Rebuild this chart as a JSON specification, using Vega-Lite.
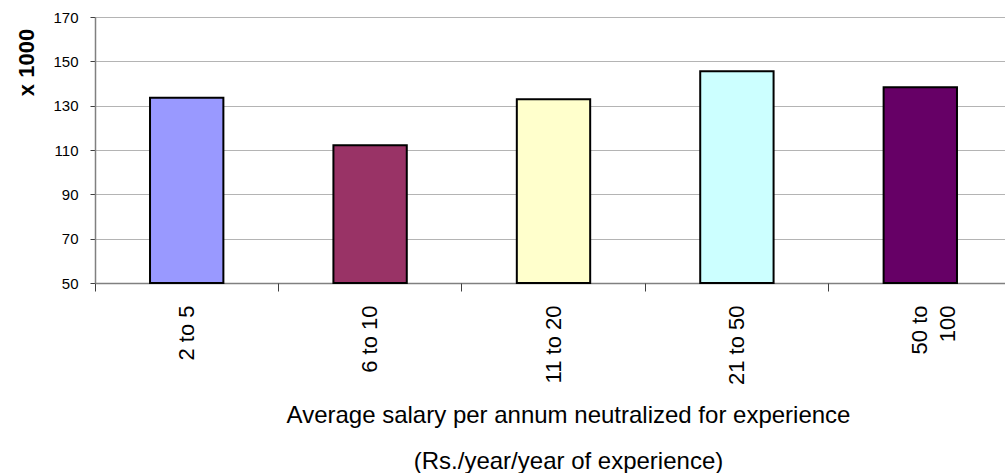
{
  "$schema": "https://vega.github.io/schema/vega-lite/v6.json",
  "width": 917,
  "height": 266,
  "autosize": {"type": "none"},
  "padding": {"left": 95, "top": 17, "right": 0, "bottom": 190},
  "background": "white",
  "config": {"view": {"stroke": null}, "font": "Liberation Sans"},
  "data": {
    "values": [
      {"range": "2 to 5", "salary": 133.6},
      {"range": "6 to 10", "salary": 112.1},
      {"range": "11 to 20", "salary": 132.9},
      {"range": "21 to 50", "salary": 145.5},
      {"range": "50 to 100", "salary": 138.3}
    ]
  },
  "layer": [
    {
      "mark": {"type": "bar", "width": {"band": 0.4}, "stroke": "black", "strokeWidth": 2},
      "encoding": {
        "x": {
          "field": "range", "type": "nominal", "sort": null,
          "scale": {"paddingInner": 0, "paddingOuter": 0},
          "axis": {
            "orient": "bottom",
            "title": ["Average salary per annum neutralized for experience", "(Rs./year/year of experience)"],
            "titleFontSize": 24, "titleFontWeight": "normal", "titleColor": "black",
            "titleLineHeight": 46, "titleX": 473, "titleY": 139,
            "titleBaseline": "alphabetic", "titleAlign": "center",
            "labelAngle": -90, "labelFontSize": 22, "labelColor": "black",
            "labelPadding": 22, "ticks": false,
            "labelExpr": "datum.label == '50 to 100' ? ['50 to', '100\u00a0'] : datum.label",
            "labelLineHeight": 28,
            "domainColor": "#808080", "domainWidth": 1.5, "grid": false
          }
        },
        "y": {
          "field": "salary", "type": "quantitative",
          "scale": {"domain": [50, 170], "nice": false, "zero": false},
          "axis": {
            "values": [50, 60, 70, 80, 90, 100, 110, 120, 130, 140, 150, 160, 170],
            "labelExpr": "datum.value % 20 == 10 ? datum.label : ''",
            "title": "x 1000", "titleFontSize": 22, "titleFontWeight": "bold", "titleColor": "black",
            "titleX": -69, "titleY": 45, "titleAngle": 270, "titleAlign": "center", "titleBaseline": "middle",
            "grid": true, "gridColor": "#b4b4b4", "gridWidth": 1,
            "tickSize": 5, "tickColor": "#404040",
            "labelFontSize": 15, "labelColor": "black", "labelPadding": 12,
            "domainColor": "#808080", "domainWidth": 1.5
          }
        },
        "y2": {"datum": 50},
        "color": {
          "field": "range", "type": "nominal", "sort": null,
          "scale": {"range": ["#9999FF", "#993366", "#FFFFCC", "#CCFFFF", "#660066"]},
          "legend": null
        }
      }
    },
    {
      "mark": {"type": "bar", "opacity": 0},
      "encoding": {
        "x": {
          "field": "range", "type": "nominal", "sort": null,
          "axis": {
            "orient": "bottom", "title": null, "labels": false, "domain": false, "grid": false,
            "ticks": true, "tickSize": 8, "tickColor": "#404040", "bandPosition": 0
          }
        },
        "y": {"field": "salary", "type": "quantitative"},
        "y2": {"datum": 50}
      }
    }
  ],
  "resolve": {"axis": {"x": "independent"}}
}
